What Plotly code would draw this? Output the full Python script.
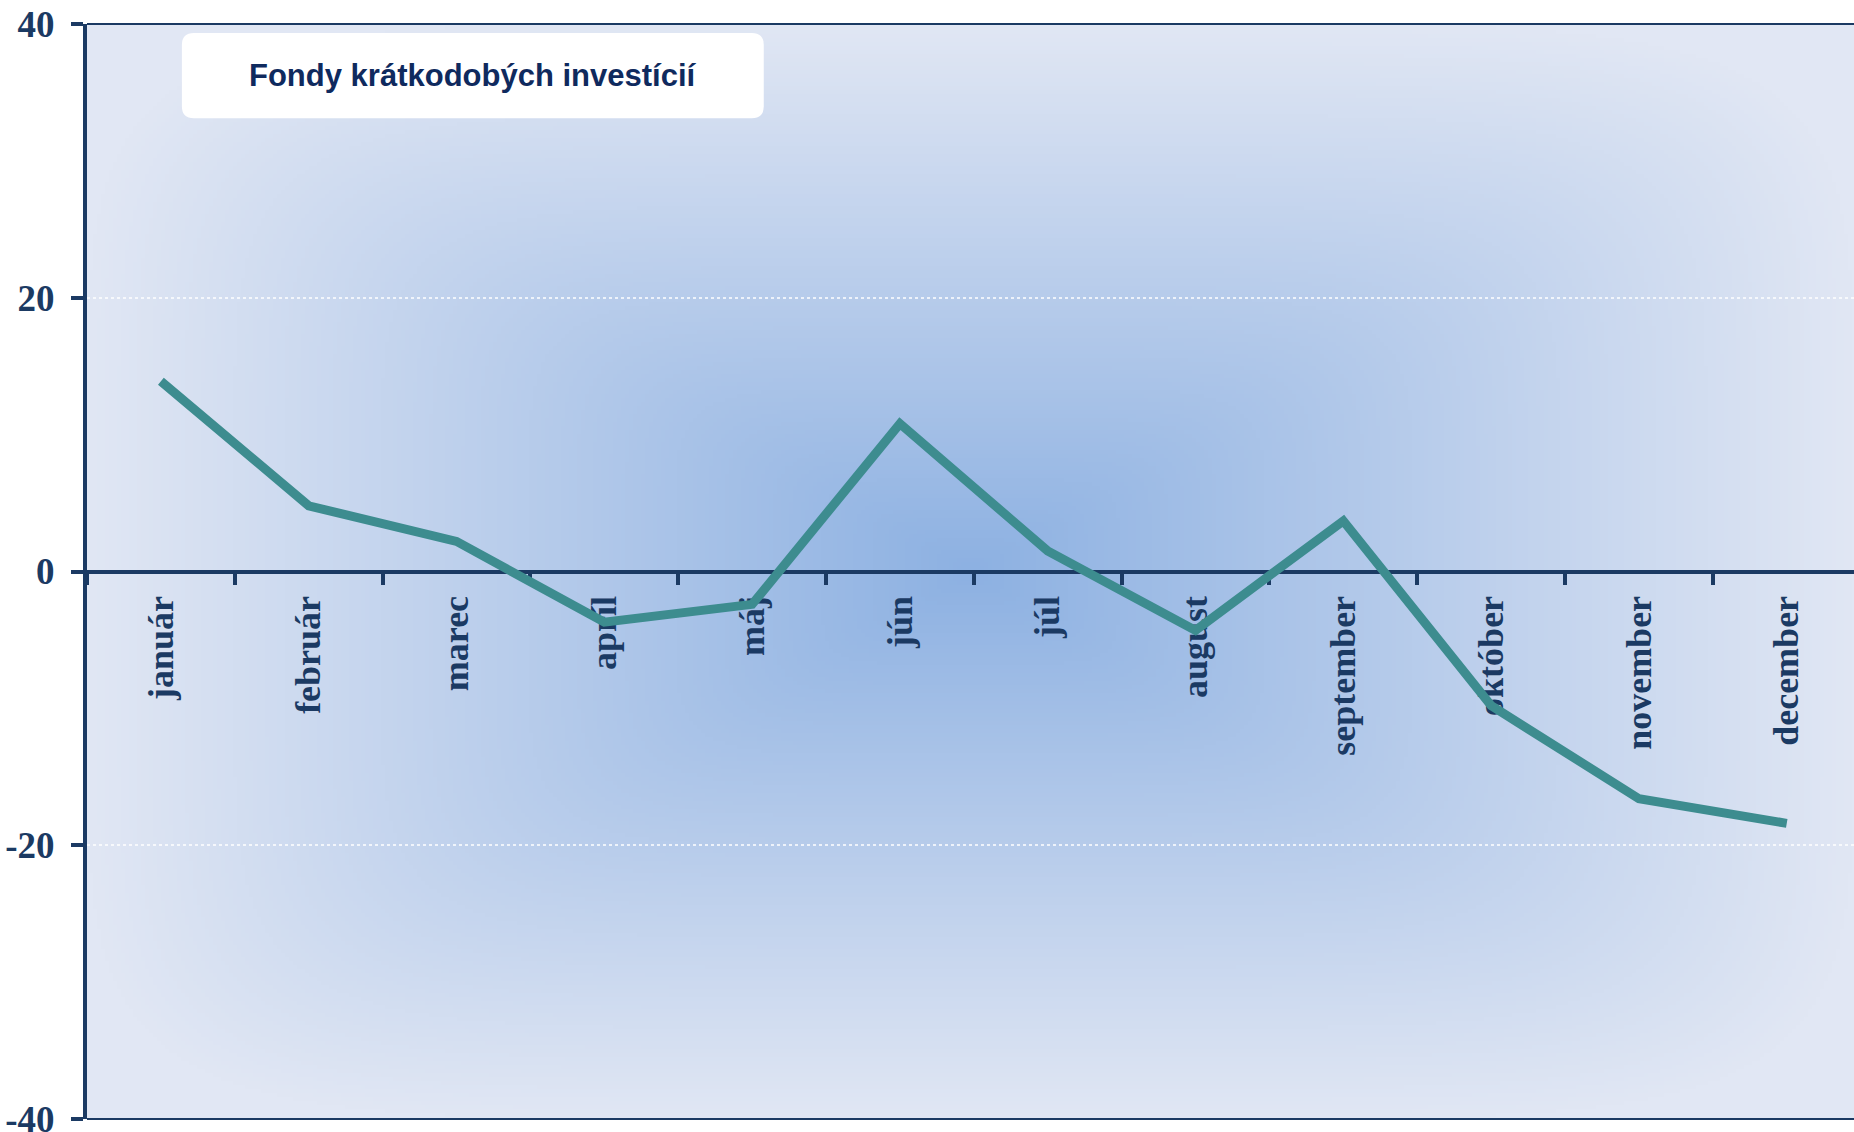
import zlib, struct, base64
import numpy as np
import plotly.graph_objects as go

# ---- data ----
months = ["január", "február", "marec", "apríl", "máj", "jún", "júl",
          "august", "september", "október", "november", "december"]
values = [13.9, 4.8, 2.2, -3.7, -2.4, 10.8, 1.5, -4.3, 3.7, -9.8, -16.6, -18.4]
y_ticks = [-40, -20, 0, 20, 40]
title_text = "Fondy krátkodobých investícií"

NAVY = "#1b3a63"
TEAL = "#3d8c8f"

# ---- background gradient (rectangular, from centre) as PNG ----
def make_png(w, h, c_center, c_edge, p=6.0):
    xs = np.linspace(-1, 1, w)
    ys = np.linspace(-1, 1, h)
    X, Y = np.meshgrid(xs, ys)
    t = (np.abs(X) ** p + np.abs(Y) ** p) ** (1.0 / p)
    t = np.clip(t, 0, 1)
    cc = np.array(c_center, dtype=float)
    ce = np.array(c_edge, dtype=float)
    img = cc[None, None, :] * (1 - t[..., None]) + ce[None, None, :] * t[..., None]
    img = np.clip(img, 0, 255).astype(np.uint8)
    raw = b"".join(b"\x00" + img[r].tobytes() for r in range(h))
    def chunk(tag, data):
        c = struct.pack(">I", len(data)) + tag + data
        return c + struct.pack(">I", zlib.crc32(tag + data) & 0xffffffff)
    png = b"\x89PNG\r\n\x1a\n"
    png += chunk(b"IHDR", struct.pack(">IIBBBBB", w, h, 8, 2, 0, 0, 0))
    png += chunk(b"IDAT", zlib.compress(raw, 9))
    png += chunk(b"IEND", b"")
    return "data:image/png;base64," + base64.b64encode(png).decode()

bg = make_png(442, 274, (141, 177, 226), (225, 231, 244))

fig = go.Figure()
fig.add_trace(go.Scatter(
    x=months, y=values, mode="lines",
    line=dict(color=TEAL, width=9),
    hoverinfo="x+y", showlegend=False,
))

fig.update_layout(
    width=1854, height=1132,
    margin=dict(l=87, r=0, t=24, b=13, autoexpand=False),
    paper_bgcolor="white",
    plot_bgcolor="rgba(0,0,0,0)",
    images=[dict(source=bg, xref="paper", yref="paper", x=0, y=1,
                 sizex=1, sizey=1, xanchor="left", yanchor="top",
                 sizing="stretch", layer="below")],
    xaxis=dict(
        type="category", range=[-0.5, 11.455],
        anchor="free", position=0.5,
        showline=True, linecolor=NAVY, linewidth=4,
        ticks="outside", tickson="boundaries", ticklen=11, tickwidth=4, tickcolor=NAVY,
        tickangle=-90, ticklabelstandoff=8,
        tickfont=dict(family="Liberation Serif, Times New Roman, serif", size=36, color=NAVY, weight="bold"),
        showgrid=False, zeroline=False, layer="below traces",
    ),
    yaxis=dict(
        range=[-40, 40], tickvals=y_ticks, ticktext=[str(v) for v in y_ticks],
        showline=True, linecolor=NAVY, linewidth=4,
        ticks="outside", ticklen=12, tickwidth=4, tickcolor=NAVY,
        ticklabelstandoff=9, ticklabeloverflow="allow",
        tickfont=dict(family="Liberation Serif, Times New Roman, serif", size=37, color=NAVY, weight="bold"),
        showgrid=True, gridcolor="rgba(255,255,255,0.75)", gridwidth=1.5, griddash="dot",
        zeroline=False, layer="below traces",
    ),
)

# top and bottom borders of plot area
fig.add_shape(type="line", xref="paper", yref="paper", x0=0, x1=1, y0=1, y1=1,
              line=dict(color=NAVY, width=2), layer="above")
fig.add_shape(type="line", xref="paper", yref="paper", x0=0, x1=1, y0=0, y1=0,
              line=dict(color=NAVY, width=2), layer="above")

# rounded white title box
x0, x1, y0, y1 = 0.0537, 0.383, 0.914, 0.9918
rx, ry = 12 / 1767, 12 / 1095
path = (f"M {x0+rx},{y0} L {x1-rx},{y0} Q {x1},{y0} {x1},{y0+ry} "
        f"L {x1},{y1-ry} Q {x1},{y1} {x1-rx},{y1} L {x0+rx},{y1} "
        f"Q {x0},{y1} {x0},{y1-ry} L {x0},{y0+ry} Q {x0},{y0} {x0+rx},{y0} Z")
fig.add_shape(type="path", xref="paper", yref="paper", path=path,
              fillcolor="white", line=dict(width=0), layer="above")
fig.add_annotation(xref="paper", yref="paper", x=(x0 + x1) / 2, y=(y0 + y1) / 2,
                   text=f"<b>{title_text}</b>", showarrow=False,
                   font=dict(family="Liberation Sans, Arial, sans-serif",
                             size=31, color="#0f2a5e"),
                   xanchor="center", yanchor="middle")

fig.write_html("out.html", config={"displayModeBar": False},
               post_script="document.body.style.margin='0';")
